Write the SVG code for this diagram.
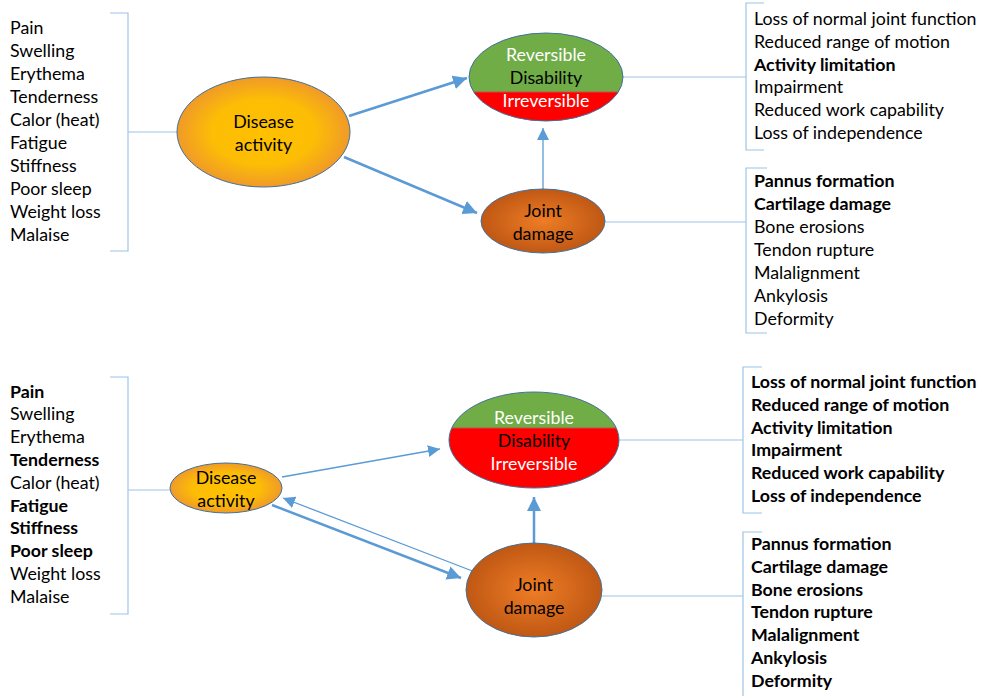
<svg xmlns="http://www.w3.org/2000/svg" width="984" height="696" viewBox="0 0 984 696">
<defs>
<style>
text{font-family:Lato,"Noto Sans","Liberation Sans",sans-serif;font-size:17.8px;fill:#000}
.b{font-weight:bold}
.w{fill:#fff}
.c{text-anchor:middle}
.br{fill:none;stroke:#9DC3E6;stroke-width:1.2}
.ln{fill:none;stroke:#9DC3E6;stroke-width:1.2}
.ar{fill:none;stroke:#5B9BD5}
.t{stroke-width:2.5}
.n{stroke-width:1.3}
.el{stroke:#41719C;stroke-width:1}
</style>
<radialGradient id="gY" cx="50%" cy="50%" r="50%">
<stop offset="0" stop-color="#FFC000"/><stop offset="0.6" stop-color="#FCBD05"/><stop offset="1" stop-color="#F09A28"/>
</radialGradient>
<radialGradient id="gO" cx="50%" cy="50%" r="50%">
<stop offset="0" stop-color="#EE7D25"/><stop offset="1" stop-color="#C05814"/>
</radialGradient>
<clipPath id="c1"><ellipse cx="546" cy="77" rx="77" ry="44"/></clipPath>
<clipPath id="c2"><ellipse cx="534" cy="440" rx="85" ry="48"/></clipPath>
<marker id="mT" markerUnits="userSpaceOnUse" markerWidth="16" markerHeight="14" refX="14" refY="7" orient="auto">
<path d="M0,0 L14,7 L0,14 Z" fill="#5B9BD5"/>
</marker>
<marker id="mN" markerUnits="userSpaceOnUse" markerWidth="14" markerHeight="12" refX="12" refY="6" orient="auto">
<path d="M0,0 L12,6 L0,12 Z" fill="#5B9BD5"/>
</marker>
</defs>

<g id="connectors">
<path class="br" d="M110,13 H128 V251 H110"/>
<path class="ln" d="M128,132 H177"/>
<path class="br" d="M764,3 H746 V150 H764"/>
<path class="ln" d="M623,77 H746"/>
<path class="br" d="M767,168 H746 V333 H767"/>
<path class="ln" d="M605,222 H746"/>
<path class="ar t" d="M349,116 L467,78" marker-end="url(#mT)"/>
<path class="ar t" d="M344,157 L477,213" marker-end="url(#mT)"/>
<path class="ar n" d="M543,189 V128" marker-end="url(#mN)"/>
<path class="br" d="M110,377 H128 V614 H110"/>
<path class="ln" d="M128,490 H170"/>
<path class="br" d="M762,367 H743 V513 H762"/>
<path class="ln" d="M619,440 H743"/>
<path class="br" d="M762,532 H743 V700"/>
<path class="ln" d="M602,596 H743"/>
<path class="ar n" d="M282,477 L440,449" marker-end="url(#mN)"/>
<path class="ar t" d="M272,505 L461,578" marker-end="url(#mT)"/>
<path class="ar n" d="M475,572 L283,498" marker-end="url(#mN)"/>
<path class="ar t" d="M534,543 V497" marker-end="url(#mT)"/>
</g>

<g id="top-symptoms">
<text x="10" y="34">Pain</text>
<text x="10" y="57">Swelling</text>
<text x="10" y="80">Erythema</text>
<text x="10" y="103">Tenderness</text>
<text x="10" y="126">Calor (heat)</text>
<text x="10" y="149">Fatigue</text>
<text x="10" y="172">Stiffness</text>
<text x="10" y="195">Poor sleep</text>
<text x="10" y="218">Weight loss</text>
<text x="10" y="241">Malaise</text>
</g>

<g id="top-disease">
<ellipse class="el" cx="263.5" cy="132" rx="86.5" ry="55" fill="url(#gY)"/>
<text class="c" x="263.5" y="128">Disease</text>
<text class="c" x="263.5" y="151">activity</text>
</g>

<g id="top-disability">
<g clip-path="url(#c1)">
<rect x="469" y="33" width="154" height="59" fill="#70AD47"/>
<rect x="469" y="92" width="154" height="30" fill="#FF0000"/>
<line x1="469" y1="92" x2="623" y2="92" stroke="#C0504D" stroke-width="1"/>
</g>
<ellipse class="el" cx="546" cy="77" rx="77" ry="44" fill="none"/>
<text class="c w" x="546" y="61">Reversible</text>
<text class="c" x="546" y="84">Disability</text>
<text class="c w" x="546" y="107">Irreversible</text>
</g>

<g id="top-joint">
<ellipse class="el" cx="543" cy="221" rx="62" ry="32" fill="url(#gO)"/>
<text class="c" x="543" y="217">Joint</text>
<text class="c" x="543" y="240">damage</text>
</g>

<g id="top-disability-list">
<text x="754" y="25">Loss of normal joint function</text>
<text x="754" y="48">Reduced range of motion</text>
<text class="b" x="754" y="71">Activity limitation</text>
<text x="754" y="93">Impairment</text>
<text x="754" y="116">Reduced work capability</text>
<text x="754" y="139">Loss of independence</text>
</g>

<g id="top-damage-list">
<text class="b" x="754" y="187">Pannus formation</text>
<text class="b" x="754" y="210">Cartilage damage</text>
<text x="754" y="233">Bone erosions</text>
<text x="754" y="256">Tendon rupture</text>
<text x="754" y="279">Malalignment</text>
<text x="754" y="302">Ankylosis</text>
<text x="754" y="325">Deformity</text>
</g>

<g id="bottom-symptoms">
<text class="b" x="10" y="397.5">Pain</text>
<text x="10" y="420.3">Swelling</text>
<text x="10" y="443.1">Erythema</text>
<text class="b" x="10" y="465.9">Tenderness</text>
<text x="10" y="488.7">Calor (heat)</text>
<text class="b" x="10" y="511.5">Fatigue</text>
<text class="b" x="10" y="534.3">Stiffness</text>
<text class="b" x="10" y="557.1">Poor sleep</text>
<text x="10" y="579.9">Weight loss</text>
<text x="10" y="602.7">Malaise</text>
</g>

<g id="bottom-disease">
<ellipse class="el" cx="226" cy="488" rx="56" ry="25" fill="url(#gY)"/>
<text class="c" x="226" y="484">Disease</text>
<text class="c" x="226" y="507">activity</text>
</g>

<g id="bottom-disability">
<g clip-path="url(#c2)">
<rect x="449" y="392" width="170" height="36" fill="#70AD47"/>
<rect x="449" y="428" width="170" height="61" fill="#FF0000"/>
<line x1="449" y1="428" x2="619" y2="428" stroke="#C0504D" stroke-width="1"/>
</g>
<ellipse class="el" cx="534" cy="440" rx="85" ry="48" fill="none"/>
<text class="c w" x="534" y="424">Reversible</text>
<text class="c" x="534" y="447">Disability</text>
<text class="c w" x="534" y="470">Irreversible</text>
</g>

<g id="bottom-joint">
<ellipse class="el" cx="534" cy="590" rx="68" ry="47" fill="url(#gO)"/>
<text class="c" x="534" y="591">Joint</text>
<text class="c" x="534" y="614">damage</text>
</g>

<g id="bottom-disability-list">
<text class="b" x="751" y="388.3">Loss of normal joint function</text>
<text class="b" x="751" y="411">Reduced range of motion</text>
<text class="b" x="751" y="433.7">Activity limitation</text>
<text class="b" x="751" y="456.4">Impairment</text>
<text class="b" x="751" y="479.1">Reduced work capability</text>
<text class="b" x="751" y="501.8">Loss of independence</text>
</g>

<g id="bottom-damage-list">
<text class="b" x="751" y="550">Pannus formation</text>
<text class="b" x="751" y="572.8">Cartilage damage</text>
<text class="b" x="751" y="595.6">Bone erosions</text>
<text class="b" x="751" y="618.4">Tendon rupture</text>
<text class="b" x="751" y="641.2">Malalignment</text>
<text class="b" x="751" y="664">Ankylosis</text>
<text class="b" x="751" y="686.8">Deformity</text>
</g>
</svg>
